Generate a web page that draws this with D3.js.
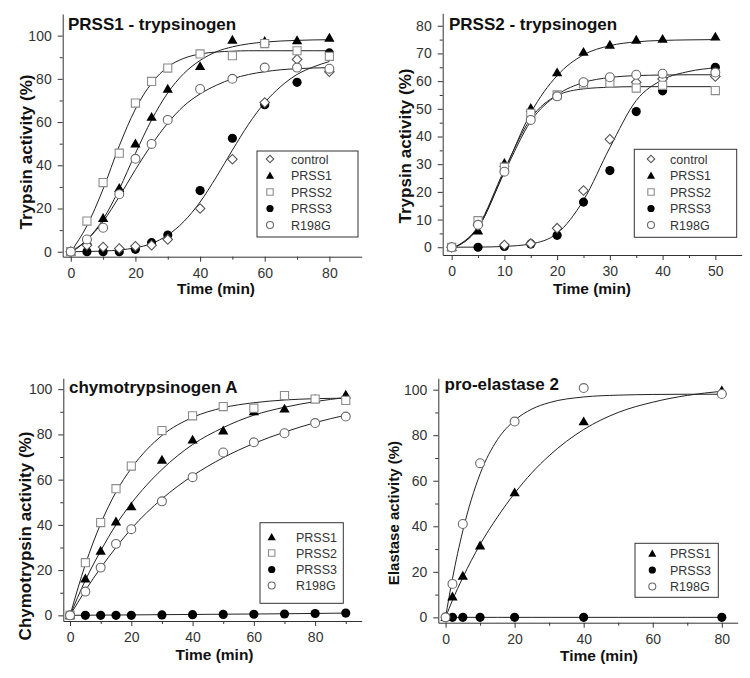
<!DOCTYPE html>
<html><head><meta charset="utf-8">
<script src="https://cdn.jsdelivr.net/npm/d3@7"></script>
<style>body{margin:0;background:#fff}svg{display:block}</style>
</head><body><svg id="chart" width="750" height="678"></svg>
<script>
// ---------- Panel 1: PRSS1 - trypsinogen ----------
const p1Time    = [0, 5, 10, 15, 20, 25, 30, 40, 50, 60, 70, 80];
const p1Control = [0, 3, 2.2, 1.5, 2.5, 3, 5.7, 20, 42.8, 69, 89, 83.3];
const p1PRSS1   = [0, 5, 15.5, 29.4, 50, 62.3, 75.3, 85.8, 98, 97.4, 97.8, 98.9];
const p1PRSS2   = [0, 14.2, 32, 45.6, 68.8, 78.8, 85, 91.5, 90.7, 96.3, 93, 90.4];
const p1PRSS3   = [0, 0, 0, 0, 1.1, 4.2, 7.7, 28.3, 52.5, 68, 78.4, 92];
const p1R198G   = [0, 5.7, 11.1, 26.6, 43, 49.9, 61, 75.3, 80, 85.2, 85.2, 84.7];
const p1FitTime   = [0, 5, 10, 15, 20, 25, 30, 35, 40, 45, 50, 55, 60, 65, 70, 75, 80];
const p1FitPRSS1  = [-0.5, 5.5, 15, 29, 45.5, 61, 73.5, 82.5, 88.5, 92.5, 94.8, 96.2, 97, 97.5, 97.8, 98, 98.1];
const p1FitPRSS2  = [0, 12, 29, 49, 66, 78, 85.5, 89.5, 91.5, 92.4, 92.8, 93, 93, 93, 93, 93, 93];
const p1FitR198G  = [0, 5.5, 14, 25.5, 38, 49.5, 59.5, 67.5, 73, 77, 80, 82, 83.3, 84.2, 84.7, 85, 85.2];
const p1FitCtrl   = [0, 0.1, 0.3, 0.8, 1.8, 3.8, 7.7, 14, 23, 34.5, 47, 59, 69, 76.5, 82, 85.5, 88];

// ---------- Panel 2: PRSS2 - trypsinogen ----------
const p2Time    = [0, 5, 10, 15, 20, 25, 30, 35, 40, 50];
const p2Control = [0, 8, 0.8, 1.3, 6.9, 20.5, 39, 59.6, 60.8, 61.7];
const p2PRSS1   = [0, 6, 30.4, 50.2, 63.1, 70.5, 73.1, 74.9, 75.2, 76];
const p2PRSS2   = [0, 9.6, 28.9, 48.4, 55, 59, 59.3, 57.5, 58.5, 56.6];
const p2PRSS3   = [0, 0, 0.3, 1.2, 4.3, 16.3, 27.7, 49, 56.5, 65];
const p2R198G   = [0, 8.1, 27.3, 46, 54.5, 59.6, 61.4, 62.3, 62.7, 63.1];
const p2FitTime  = [0, 5, 10, 15, 20, 25, 30, 35, 40, 45, 50];
const p2FitPRSS1 = [-0.5, 7, 27.5, 48.5, 62, 69.5, 72.8, 74.2, 74.7, 74.9, 75];
const p2FitPRSS2 = [-0.5, 7.5, 28, 46.5, 54.8, 57.2, 57.8, 58, 58, 58, 58];
const p2FitR198G = [-0.5, 7, 27, 45.5, 55, 59.5, 61.3, 62, 62.2, 62.3, 62.3];
const p2FitCtrl  = [0, 0.05, 0.3, 1.2, 5, 17, 36, 53, 60.5, 63.5, 64.8];

// ---------- Panel 3: chymotrypsinogen A ----------
const p3Time   = [0, 5, 10, 15, 20, 30, 40, 50, 60, 70, 80, 90];
const p3PRSS1  = [0, 16.2, 28.5, 41.4, 48.1, 68.7, 77.6, 81.6, 90.1, 91.3, 95.6, 97.5];
const p3PRSS2  = [0, 23.3, 41, 56, 66, 81.7, 88.2, 92.3, 91.6, 97.2, 95.6, 95];
const p3PRSS3  = [0, 0, 0, 0, 0, 0.2, 0.3, 0.4, 0.5, 0.6, 0.8, 1];
const p3R198G  = [0, 10.5, 21.1, 31.6, 38.1, 50.4, 61.1, 72, 76.5, 80.5, 85, 87.9];
const p3FitTime  = [0, 5, 10, 15, 20, 30, 40, 50, 60, 70, 80, 90];
const p3FitPRSS1 = [0, 15.5, 28.5, 40, 49.5, 64.5, 75.5, 83, 88.5, 92, 94.5, 96.3];
const p3FitPRSS2 = [0, 22.5, 40.5, 54.5, 65, 79.5, 87.5, 91.8, 94, 95.2, 95.8, 96];
const p3FitPRSS3 = [0, 0.05, 0.1, 0.15, 0.2, 0.3, 0.4, 0.5, 0.6, 0.7, 0.85, 1];
const p3FitR198G = [0, 11, 21, 30, 38.3, 51.5, 61.7, 69.7, 76, 81, 85.2, 88.5];

// ---------- Panel 4: pro-elastase 2 ----------
const p4Time   = [0, 2, 5, 10, 20, 40, 80];
const p4PRSS1  = [0, 9.1, 18.2, 31.5, 54.8, 86, 99.6];
const p4PRSS3  = [0, 0, 0, 0, 0, 0, 0];
const p4R198G  = [0, 14.7, 41, 67.7, 86, 100.7, 98.1];
const p4FitTime  = [0, 2, 5, 10, 15, 20, 25, 30, 40, 50, 60, 70, 80];
const p4FitPRSS1 = [0, 7.5, 17.5, 32, 44, 54.5, 63.5, 71, 82.5, 90, 94.5, 97.5, 99.3];
const p4FitPRSS3 = [0, 0, 0, 0, 0, 0, 0, 0, 0, 0, 0, 0, 0];
const p4FitR198G = [0, 17, 38, 63, 78, 86.5, 91.5, 94.3, 96.8, 97.6, 97.9, 98, 98];

// ---------- Labels ----------
const panelTitles = ["PRSS1 - trypsinogen", "PRSS2 - trypsinogen", "chymotrypsinogen A", "pro-elastase 2"];
const yTitles = ["Trypsin activity (%)", "Trypsin activity (%)", "Chymotrypsin activity (%)", "Elastase activity (%)"];
const xTitle = "Time (min)";
const legend1 = ["control", "PRSS1", "PRSS2", "PRSS3", "R198G"];
const legend3 = ["PRSS1", "PRSS2", "PRSS3", "R198G"];
const legend4 = ["PRSS1", "PRSS3", "R198G"];
const p1XTicks = [0, 20, 40, 60, 80], p1YTicks = [0, 20, 40, 60, 80, 100];
const p2XTicks = [0, 10, 20, 30, 40, 50], p2YTicks = [0, 10, 20, 30, 40, 50, 60, 70, 80];
const p3XTicks = [0, 20, 40, 60, 80], p3YTicks = [0, 20, 40, 60, 80, 100];
const p4XTicks = [0, 20, 40, 60, 80], p4YTicks = [0, 20, 40, 60, 80, 100];

// ---------- Marker styles ----------
const markerStyle = {
  control: {shape: "diamond"},
  PRSS1:   {shape: "triangle"},
  PRSS2:   {shape: "square"},
  PRSS3:   {shape: "dot"},
  R198G:   {shape: "circle"}
};

const svg = d3.select("#chart");
const FONT = "'Liberation Sans', Arial, sans-serif";

function drawMarker(g, name, x, y, small) {
  const s = markerStyle[name].shape;
  const k = small ? 0.62 : 1;
  let p;
  if (s === "triangle") {
    p = g.append("path").attr("d", d3.symbol(d3.symbolTriangle, 46 * k)())
      .attr("fill", "#000").attr("transform", `translate(${x},${y + 0.8})`);
  } else if (s === "dot") {
    p = g.append("path").attr("d", d3.symbol(d3.symbolCircle, 66 * k)())
      .attr("fill", "#000").attr("transform", `translate(${x},${y})`);
  } else if (s === "circle") {
    p = g.append("path").attr("d", d3.symbol(d3.symbolCircle, 62 * k)())
      .attr("fill", "#fff").attr("stroke", "#6a6a6a").attr("stroke-width", 1.1)
      .attr("transform", `translate(${x},${y})`);
  } else if (s === "square") {
    p = g.append("path").attr("d", d3.symbol(d3.symbolSquare, 66 * k)())
      .attr("fill", "#fff").attr("stroke", "#8c8c8c").attr("stroke-width", 1.1)
      .attr("transform", `translate(${x},${y})`);
  } else if (s === "diamond") {
    p = g.append("path").attr("d", d3.symbol(d3.symbolSquare, 46 * k)())
      .attr("fill", "#fff").attr("stroke", "#555").attr("stroke-width", 1.1)
      .attr("transform", `translate(${x},${y}) rotate(45)`);
  }
  return p;
}

function panel(cfg) {
  const g = svg.append("g");
  const x = d3.scaleLinear().domain(cfg.xDomain).range(cfg.xRange);
  const y = d3.scaleLinear().domain(cfg.yDomain).range(cfg.yRange);

  // minor ticks
  const minorX = d3.range(cfg.xMinor[0], cfg.xDomain[1], cfg.xMinor[1]).filter(v => !cfg.xTicks.includes(v));
  const minorY = d3.range(cfg.yMinor[0], cfg.yDomain[1], cfg.yMinor[1]).filter(v => !cfg.yTicks.includes(v));

  g.append("g").attr("transform", `translate(0,${cfg.yRange[0]})`)
    .call(d3.axisBottom(x).tickValues(cfg.xTicks).tickSize(5).tickPadding(6).tickSizeOuter(0));
  g.append("g").attr("transform", `translate(0,${cfg.yRange[0]})`)
    .call(d3.axisBottom(x).tickValues(minorX).tickSize(3).tickFormat("").tickSizeOuter(0))
    .select(".domain").remove();
  g.append("g").attr("transform", `translate(${cfg.xRange[0]},0)`)
    .call(d3.axisLeft(y).tickValues(cfg.yTicks).tickSize(5).tickPadding(6).tickSizeOuter(0));
  g.append("g").attr("transform", `translate(${cfg.xRange[0]},0)`)
    .call(d3.axisLeft(y).tickValues(minorY).tickSize(3).tickFormat("").tickSizeOuter(0))
    .select(".domain").remove();
  g.selectAll(".domain, .tick line").attr("stroke", "#333").attr("stroke-width", 1);
  g.selectAll(".tick text").attr("font-family", FONT).attr("font-size", 14).attr("fill", "#333");

  // fitted curves
  const line = d3.line().x(d => x(d[0])).y(d => y(d[1])).curve(d3.curveMonotoneX);
  cfg.fits.forEach(f => {
    g.append("path").datum(cfg.fitTime.map((t, i) => [t, f[i]]))
      .attr("d", line).attr("fill", "none").attr("stroke", "#222").attr("stroke-width", 1);
  });

  // markers
  cfg.series.forEach(s => {
    s.values.forEach((v, i) => drawMarker(g, s.name, x(cfg.time[i]), y(v), false));
  });

  // title
  g.append("text").attr("x", cfg.title[0]).attr("y", cfg.title[1]).text(cfg.titleText)
    .attr("font-family", FONT).attr("font-weight", "bold").attr("font-size", 17).attr("fill", "#111");
  // y title
  g.append("text").attr("transform", `translate(${cfg.yTitle[0]},${cfg.yTitle[1]}) rotate(-90)`)
    .attr("text-anchor", "middle").text(cfg.yTitleText)
    .attr("font-family", FONT).attr("font-weight", "bold").attr("font-size", cfg.yTitleSize || 17).attr("fill", "#111");
  // x title
  g.append("text").attr("x", cfg.xTitle[0]).attr("y", cfg.xTitle[1]).attr("text-anchor", "middle").text(xTitle)
    .attr("font-family", FONT).attr("font-weight", "bold").attr("font-size", 15.5).attr("fill", "#111");

  // legend
  const L = cfg.legend;
  g.append("rect").attr("x", L.box[0]).attr("y", L.box[1]).attr("width", L.box[2] - L.box[0]).attr("height", L.box[3] - L.box[1])
    .attr("fill", "#fff").attr("stroke", "#333").attr("stroke-width", 1);
  L.names.forEach((n, i) => {
    const yy = L.rows[i];
    drawMarker(g, n, L.symX, yy, true);
    g.append("text").attr("x", L.textX).attr("y", yy).attr("dy", "0.36em").text(n)
      .attr("font-family", FONT).attr("font-size", 12.5).attr("fill", "#333");
  });
}

panel({
  xDomain: [-2.5, 90], xRange: [62.7, 361.7], yDomain: [-2.3, 110], yRange: [256.7, 14],
  xTicks: p1XTicks, yTicks: p1YTicks, xMinor: [10, 20], yMinor: [10, 20],
  time: p1Time,
  series: [
    {name: "PRSS3", values: p1PRSS3}, {name: "PRSS1", values: p1PRSS1},
    {name: "control", values: p1Control}, {name: "PRSS2", values: p1PRSS2}, {name: "R198G", values: p1R198G}],
  fitTime: p1FitTime, fits: [p1FitPRSS1, p1FitPRSS2, p1FitR198G, p1FitCtrl],
  titleText: panelTitles[0], title: [68, 30],
  yTitleText: yTitles[0], yTitle: [31.5, 152],
  xTitle: [216, 294],
  legend: {names: legend1, box: [257, 151, 358, 237], rows: [159, 175.5, 192, 208.5, 225], symX: 270, textX: 291}
});

panel({
  xDomain: [-1.7, 55], xRange: [442.7, 741.7], yDomain: [-2.8, 84.5], yRange: [255, 13.3],
  xTicks: p2XTicks, yTicks: p2YTicks, xMinor: [5, 10], yMinor: [5, 10],
  time: p2Time,
  series: [
    {name: "PRSS3", values: p2PRSS3}, {name: "PRSS1", values: p2PRSS1},
    {name: "control", values: p2Control}, {name: "PRSS2", values: p2PRSS2}, {name: "R198G", values: p2R198G}],
  fitTime: p2FitTime, fits: [p2FitPRSS1, p2FitPRSS2, p2FitR198G, p2FitCtrl],
  titleText: panelTitles[1], title: [449, 30],
  yTitleText: yTitles[1], yTitle: [411, 146],
  xTitle: [592, 293.5],
  legend: {names: legend1, box: [634.3, 149.3, 736.7, 237.3], rows: [159, 175.5, 192, 208.5, 225], symX: 651, textX: 670}
});

panel({
  xDomain: [-2.2, 95.2], xRange: [63.3, 361.7], yDomain: [-2.5, 104.8], yRange: [621, 378.3],
  xTicks: p3XTicks, yTicks: p3YTicks, xMinor: [10, 20], yMinor: [10, 20],
  time: p3Time,
  series: [
    {name: "PRSS3", values: p3PRSS3}, {name: "PRSS1", values: p3PRSS1},
    {name: "PRSS2", values: p3PRSS2}, {name: "R198G", values: p3R198G}],
  fitTime: p3FitTime, fits: [p3FitPRSS1, p3FitPRSS2, p3FitPRSS3, p3FitR198G],
  titleText: panelTitles[2], title: [69, 393],
  yTitleText: yTitles[2], yTitle: [30.5, 536],
  xTitle: [214.5, 660],
  legend: {names: legend3, box: [260, 522.7, 343.3, 603.3], rows: [537, 553, 569.5, 585.5], symX: 271.7, textX: 296}
});

panel({
  xDomain: [-2.1, 84.6], xRange: [438.3, 737.7], yDomain: [-2.35, 105], yRange: [622.7, 378.3],
  xTicks: p4XTicks, yTicks: p4YTicks, xMinor: [10, 20], yMinor: [10, 20],
  time: p4Time,
  series: [
    {name: "PRSS3", values: p4PRSS3}, {name: "PRSS1", values: p4PRSS1}, {name: "R198G", values: p4R198G}],
  fitTime: p4FitTime, fits: [p4FitPRSS1, p4FitPRSS3, p4FitR198G],
  titleText: panelTitles[3], title: [444.5, 390],
  yTitleText: yTitles[3], yTitle: [398.5, 513], yTitleSize: 15,
  xTitle: [599, 660.5],
  legend: {names: legend4, box: [635, 543.3, 718.3, 597.3], rows: [553.5, 570, 586.5], symX: 652.3, textX: 670}
});
</script></body></html>
